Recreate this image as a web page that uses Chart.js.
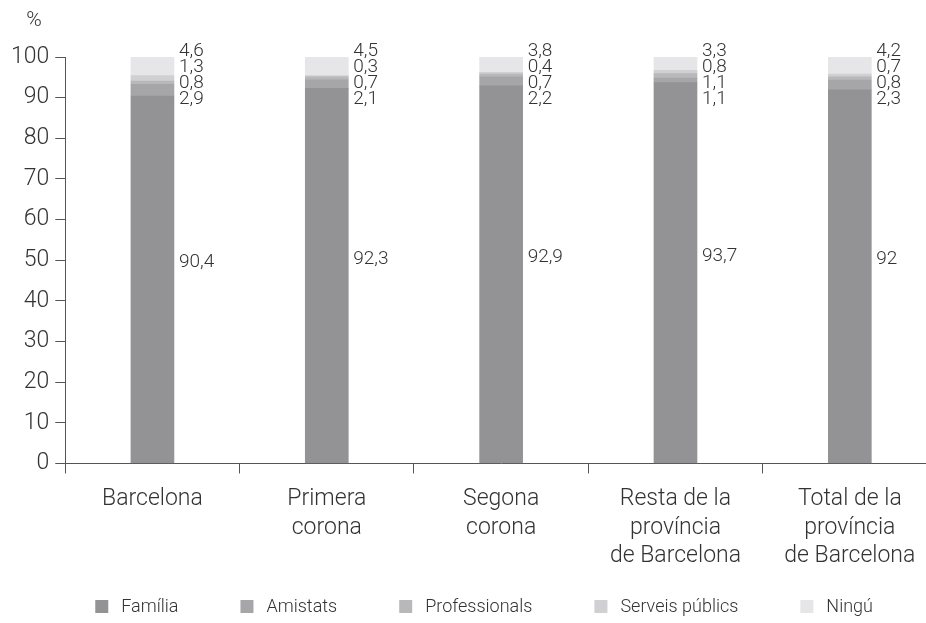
<!DOCTYPE html>
<html>
<head>
<meta charset="utf-8">
<script src="https://cdn.jsdelivr.net/npm/chart.js@4"></script>
<style>
  html, body { margin: 0; padding: 0; background: #fff; overflow: hidden; }
  #wrap { width: 940px; height: 623px; }
</style>
</head>
<body>
<div id="wrap"><canvas id="chart"></canvas></div>
<script>
const categories = [
  "Barcelona",
  ["Primera", "corona"],
  ["Segona", "corona"],
  ["Resta de la", "província", "de Barcelona"],
  ["Total de la", "província", "de Barcelona"]
];
const familia = [90.4, 92.3, 92.9, 93.7, 92];
const amistats = [2.9, 2.1, 2.2, 1.1, 2.3];
const professionals = [0.8, 0.7, 0.7, 1.1, 0.8];
const serveisPublics = [1.3, 0.3, 0.4, 0.8, 0.7];
const ningu = [4.6, 4.5, 3.8, 3.3, 4.2];
const yTicks = [0, 10, 20, 30, 40, 50, 60, 70, 80, 90, 100];
const unitLabel = "%";

const FONT = "Roboto, 'Liberation Sans', sans-serif";
const textColor = "#333";
const axisColor = "#555";

const fmt = v => String(v).replace(".", ",");

// value labels to the right of every bar, plus the "%" unit above the axis
const barLabels = {
  id: "barLabels",
  afterDatasetsDraw(chart) {
    const ctx = chart.ctx;
    const y = chart.scales.y;
    const base = chart.getDatasetMeta(0);
    ctx.save();
    ctx.fillStyle = textColor;
    ctx.textBaseline = "middle";
    ctx.textAlign = "center";
    ctx.font = "300 21px " + FONT;
    ctx.fillText(unitLabel, y.left + 29, 21);
    ctx.font = "300 19px " + FONT;
    ctx.textAlign = "left";
    base.data.forEach((bar, i) => {
      const lx = bar.x + bar.width / 2 + 5;
      ctx.fillText(fmt(familia[i]), lx, y.getPixelForValue(familia[i] / 2) - 17);
      const top = y.getPixelForValue(100) - 6;
      [ningu, serveisPublics, professionals, amistats].forEach((arr, k) => {
        ctx.fillText(fmt(arr[i]), lx, top + k * 16);
      });
    });
    ctx.restore();
  }
};

// legend in one row along the bottom, wide gaps between the items
const bottomLegend = {
  id: "bottomLegend",
  afterDraw(chart) {
    const ctx = chart.ctx;
    ctx.save();
    ctx.font = "300 18px " + FONT;
    ctx.textBaseline = "middle";
    ctx.textAlign = "left";
    let x = chart.chartArea.left + 30;
    const yc = chart.height - 16;
    chart.data.datasets.forEach(ds => {
      ctx.fillStyle = ds.backgroundColor;
      ctx.fillRect(x, yc - 7, 13, 13);
      ctx.fillStyle = textColor;
      ctx.fillText(ds.label, x + 26, yc);
      x += 26 + ctx.measureText(ds.label).width + 62;
    });
    ctx.restore();
  }
};

new Chart(document.getElementById("chart"), {
  type: "bar",
  data: {
    labels: categories,
    datasets: [
      { label: "Família", data: familia, backgroundColor: "#939396" },
      { label: "Amistats", data: amistats, backgroundColor: "#a6a6a9" },
      { label: "Professionals", data: professionals, backgroundColor: "#b8b8bb" },
      { label: "Serveis públics", data: serveisPublics, backgroundColor: "#d0d0d2" },
      { label: "Ningú", data: ningu, backgroundColor: "#e6e6e8" }
    ]
  },
  options: {
    responsive: true,
    maintainAspectRatio: false,
    animation: false,
    datasets: { bar: { barThickness: 43 } },
    layout: { padding: { left: 5, right: 3, top: 57, bottom: 40 } },
    plugins: {
      tooltip: { enabled: false },
      legend: { display: false },
      title: { display: false }
    },
    scales: {
      x: {
        stacked: true,
        grid: { drawOnChartArea: false, offset: true, tickLength: 10, color: axisColor },
        border: { color: axisColor, width: 1 },
        ticks: {
          color: textColor,
          font: { family: FONT, size: 23, weight: 300, lineHeight: 1.24 },
          padding: 12,
          maxRotation: 0
        }
      },
      y: {
        stacked: true,
        min: 0,
        max: 100,
        afterBuildTicks: s => { s.ticks = yTicks.map(v => ({ value: v })); },
        grid: { drawOnChartArea: false, tickLength: 10, color: axisColor },
        border: { color: axisColor, width: 1 },
        ticks: {
          color: textColor,
          font: { family: FONT, size: 23, weight: 300 },
          padding: 6
        }
      }
    }
  },
  plugins: [barLabels, bottomLegend]
});
</script>
</body>
</html>
